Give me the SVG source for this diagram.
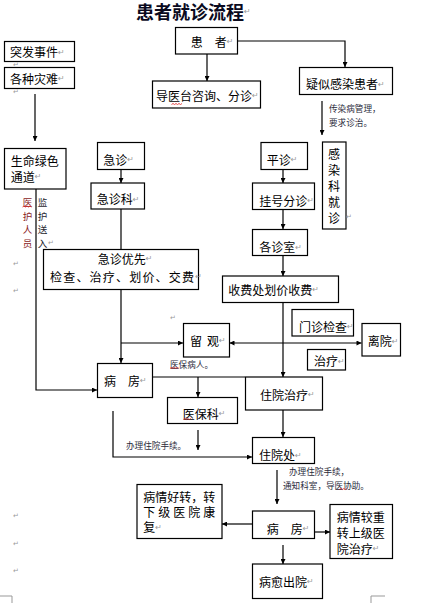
<svg xmlns="http://www.w3.org/2000/svg" width="431" height="603" viewBox="0 0 431 603">
<defs>
<style>
.box{fill:#fff;stroke:#000;stroke-width:1.2}
.ln{fill:none;stroke:#000;stroke-width:1.2}
.arr{marker-end:url(#ah)}
.t{font-family:"Noto Sans CJK SC","Noto Sans CJK JP",sans-serif;font-size:12px;fill:#000;dominant-baseline:central}
.title{font-family:"Noto Sans CJK SC",sans-serif;font-size:18px;font-weight:bold;fill:#0a0a1e;dominant-baseline:central}
.s{font-family:"Noto Sans CJK SC",sans-serif;font-size:8.6px;fill:#2a2a3a;dominant-baseline:central}
.v{font-family:"Noto Sans CJK SC",sans-serif;font-size:9.5px;dominant-baseline:central;text-anchor:middle}
.pm{font-family:"DejaVu Sans",sans-serif;font-size:8px;fill:#9a9a9a}
.pmt{font-family:"DejaVu Sans",sans-serif;font-size:7px;fill:#9a9a9a;dominant-baseline:central}
.wv{fill:none;stroke:#e02020;stroke-width:0.8}
.cm{fill:none;stroke:#999;stroke-width:1}
</style>
<marker id="ah" viewBox="0 0 10 10" refX="10" refY="5" markerWidth="6" markerHeight="5" markerUnits="userSpaceOnUse" orient="auto-start-reverse">
<path d="M0,0 L10,5 L0,10 z" fill="#000"/>
</marker>
</defs>
<rect width="431" height="603" fill="#fff"/>

<text class="title" x="136" y="11">患者就诊流程<tspan class="pm" font-weight="normal">↵</tspan></text>

<g id="connectors">
<path class="ln arr" d="M207,54 V81"/>
<path class="ln arr" d="M237,41 H345 V67"/>
<path class="ln arr" d="M35,94 V141"/>
<path class="ln arr" d="M322,101 V135"/>
<path class="ln arr" d="M121,169 V183"/>
<path class="ln" d="M121,209 V249"/>
<path class="ln arr" d="M121,289 V363"/>
<path class="ln arr" d="M121,343 H183"/>
<path class="ln arr" d="M36,189 V390 H97"/>
<path class="ln arr" d="M283,169 V183"/>
<path class="ln arr" d="M283,209 V229"/>
<path class="ln arr" d="M283,255 V276"/>
<path class="ln arr" d="M283,302 V377"/>
<path class="ln" d="M229.5,343 H361.5" marker-start="url(#ah)" marker-end="url(#ah)"/>
<path class="ln" d="M152,377 H245"/>
<path class="ln arr" d="M198,377 V397"/>
<path class="ln arr" d="M198,430 V450"/>
<path class="ln arr" d="M113,411 V457 H252"/>
<path class="ln arr" d="M283,410 V437"/>
<path class="ln arr" d="M277,470 V504"/>
<path class="ln arr" d="M252,524 H222"/>
<path class="ln arr" d="M314,532 H330"/>
<path class="ln arr" d="M283,545 V564"/>
</g>

<g id="n-tufa"><rect class="box" x="4.5" y="41.5" width="70" height="20"/><text class="t" x="10" y="51.5">突发事件<tspan class="pm">↵</tspan></text></g>
<g id="n-zainan"><rect class="box" x="4.5" y="67.5" width="70" height="21"/><text class="t" x="10" y="78">各种灾难<tspan class="pm">↵</tspan></text></g>
<g id="n-huanzhe"><rect class="box" x="175.5" y="27.5" width="62" height="26.5"/><text class="t" x="190.7" y="41">患　者<tspan class="pm">↵</tspan></text></g>
<g id="n-daoyi"><rect class="box" x="152.5" y="81" width="108" height="27"/><text class="t" x="156" y="95">导医台咨询、分诊<tspan class="pm">↵</tspan></text></g>
<g id="n-yisi"><rect class="box" x="299.5" y="67.5" width="93" height="27"/><text class="t" x="306" y="83.5">疑似感染患者<tspan class="pm">↵</tspan></text></g>
<g id="n-ganran"><rect class="box" x="322.5" y="142" width="23.5" height="87"/>
<text class="t" x="334" y="153" text-anchor="middle">感</text>
<text class="t" x="334" y="169" text-anchor="middle">染</text>
<text class="t" x="334" y="185" text-anchor="middle">科</text>
<text class="t" x="334" y="201" text-anchor="middle">就</text>
<text class="t" x="334" y="217" text-anchor="middle">诊</text>
<text class="pmt" x="346" y="217">↵</text></g>
<g id="n-lvse"><rect class="box" x="4.5" y="148.5" width="61.5" height="40.5"/><text class="t" x="10.7" y="160.7">生命绿色</text><text class="t" x="10.7" y="176">通道<tspan class="pm">↵</tspan></text></g>
<g id="n-jizhen"><rect class="box" x="97.5" y="142.5" width="47" height="27"/><text class="t" x="103.3" y="159">急诊<tspan class="pm">↵</tspan></text></g>
<g id="n-jizhenke"><rect class="box" x="91" y="183" width="53.5" height="26"/><text class="t" x="96.7" y="198.5">急诊科<tspan class="pm">↵</tspan></text></g>
<g id="n-youxian"><rect class="box" x="43.5" y="249.5" width="155" height="40"/><text class="t" x="97.7" y="258.3">急诊优先<tspan class="pm">↵</tspan></text><text class="t" x="50" y="276" letter-spacing="1.2">检查、治疗、划价、交费<tspan class="pm" letter-spacing="0">↵</tspan></text></g>
<g id="n-pingzhen"><rect class="box" x="261" y="142.5" width="46.5" height="27"/><text class="t" x="266.7" y="159.3">平诊<tspan class="pm">↵</tspan></text></g>
<g id="n-guahao"><rect class="box" x="252.5" y="183" width="62" height="26.5"/><text class="t" x="259.3" y="200">挂号分诊<tspan class="pm">↵</tspan></text></g>
<g id="n-zhenshi"><rect class="box" x="252.5" y="229.5" width="55" height="26"/><text class="t" x="259.3" y="246.5">各诊室<tspan class="pm">↵</tspan></text></g>
<g id="n-shoufei"><rect class="box" x="222.5" y="276" width="116" height="26.5"/><text class="t" x="228.3" y="289.3">收费处划价收费<tspan class="pm">↵</tspan></text></g>
<g id="n-liuguan"><rect class="box" x="183.5" y="323.5" width="46" height="33.5"/><text class="t" y="340"><tspan x="190">留</tspan><tspan x="207">观</tspan><tspan class="pm">↵</tspan></text></g>
<g id="n-menzhen"><rect class="box" x="292" y="309.5" width="61.5" height="26.5"/><text class="t" x="299" y="326">门诊检查<tspan class="pm">↵</tspan></text></g>
<g id="n-liyuan"><rect class="box" x="362" y="323.5" width="38.5" height="32.5"/><text class="t" x="367.7" y="340.7">离院<tspan class="pm">↵</tspan></text></g>
<g id="n-zhiliao"><rect class="box" x="307.5" y="349.5" width="38" height="20.5"/><text class="t" x="314" y="360.7">治疗<tspan class="pm">↵</tspan></text></g>
<g id="n-bingfang1"><rect class="box" x="97.5" y="363.5" width="55" height="34"/><text class="t" x="104" y="380">病　房<tspan class="pm">↵</tspan></text></g>
<g id="n-zhuyuanzl"><rect class="box" x="245.5" y="377" width="77" height="33"/><text class="t" x="260" y="394">住院治疗<tspan class="pm">↵</tspan></text></g>
<g id="n-yibao"><rect class="box" x="167.5" y="397.5" width="70" height="26"/><text class="t" x="182.7" y="413">医保科<tspan class="pm">↵</tspan></text></g>
<g id="n-zhuyuanchu"><rect class="box" x="252.5" y="437.5" width="62" height="26"/><text class="t" x="259" y="454.5">住院处<tspan class="pm">↵</tspan></text></g>
<g id="n-haozhuan"><rect class="box" x="137" y="484.5" width="85" height="54"/>
<text class="t" x="143.3" y="496">病情好转，转</text>
<text class="t" x="143.3" y="511.7" textLength="72" lengthAdjust="spacing">下级医院康</text>
<text class="t" x="143.3" y="526.7">复<tspan class="pm">↵</tspan></text></g>
<g id="n-bingfang2"><rect class="box" x="252.5" y="511" width="62" height="27.5"/><text class="t" x="266.7" y="528">病　房<tspan class="pm">↵</tspan></text></g>
<g id="n-jiaozhong"><rect class="box" x="330" y="504.5" width="62.5" height="54"/>
<text class="t" x="336.7" y="516.7">病情较重</text>
<text class="t" x="336.7" y="532.7">转上级医</text>
<text class="t" x="336.7" y="548.3">院治疗<tspan class="pm">↵</tspan></text></g>
<g id="n-chuyuan"><rect class="box" x="252.5" y="564" width="70" height="34.5"/><text class="t" x="259" y="581">病愈出院<tspan class="pm">↵</tspan></text></g>

<g id="annotations">
<text class="s" x="329" y="108">传染病管理，</text>
<text class="s" x="329" y="122">要求诊治。</text>
<g fill="#8a1c1c"><text class="v" x="27.5" y="202">医</text><text class="v" x="27.5" y="215.5">护</text><text class="v" x="27.5" y="229">人</text><text class="v" x="27.5" y="242.5">员</text></g>
<g fill="#1e1e2e"><text class="v" x="42.5" y="202">监</text><text class="v" x="42.5" y="215.5">护</text><text class="v" x="42.5" y="229">送</text><text class="v" x="42.5" y="242.5">入</text></g>
<text class="pmt" x="48" y="243">↵</text>
<text class="s" x="170" y="363.5">医保病人。</text>
<text class="s" x="126" y="445">办理住院手续。</text>
<text class="s" x="289" y="471">办理住院手续，</text>
<text class="s" x="283" y="485">通知科室，导医协助。</text>
</g>

<g id="marks">
<text class="pmt" x="13" y="65">↵</text>
<text class="pmt" x="13" y="92">↵</text>
<text class="pmt" x="13" y="264">↵</text>
<text class="pmt" x="13" y="291">↵</text>
<text class="pmt" x="170" y="318">↵</text>
<text class="pmt" x="13" y="516">↵</text>
<text class="pmt" x="13" y="544">↵</text>
<text class="pmt" x="13" y="571">↵</text>
<path class="wv" d="M171.5,104.5 l1.5,-1 l1.5,1 l1.5,-1 l1.5,1 l1.5,-1 l1.5,1 l1.5,-1"/>
<path class="wv" d="M22.5,207 l1.5,-1 l1.5,1 l1.5,-1 l1.5,1 l1.5,-1 l1.5,1"/>
<path class="wv" d="M170,368.5 l1.5,-1 l1.5,1 l1.5,-1 l1.5,1 l1.5,-1 l1.5,1"/>
<path class="wv" d="M183.3,419.5 l1.5,-1 l1.5,1 l1.5,-1 l1.5,1 l1.5,-1"/>
<path class="wv" d="M339.3,489.5 l1.5,-1 l1.5,1 l1.5,-1 l1.5,1 l1.5,-1"/>
<path class="cm" d="M0,596 H12 V603"/>
<path class="cm" d="M385,596 H371 V603"/>
</g>
</svg>
